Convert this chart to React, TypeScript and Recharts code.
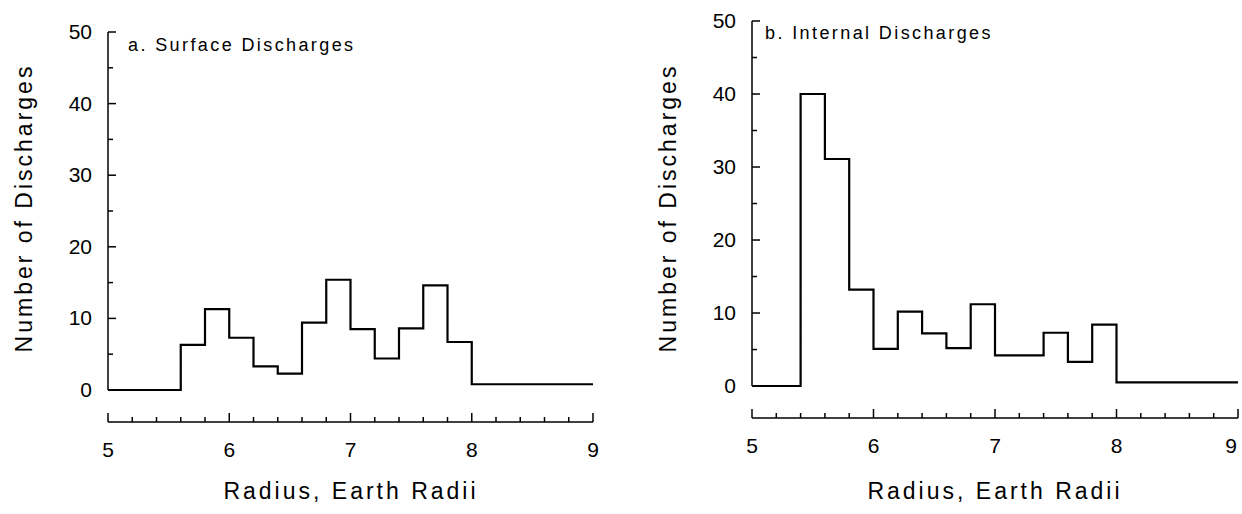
import { ComposedChart, Line, XAxis, YAxis, ReferenceLine } from "recharts";

// bin edges (Earth radii) and counts
const surfaceEdges = [5.0, 5.6, 5.8, 6.0, 6.2, 6.4, 6.6, 6.8, 7.0, 7.2, 7.4, 7.6, 7.8, 8.0, 9.0];
const surfaceCounts = [0, 6.3, 11.3, 7.3, 3.3, 2.3, 9.4, 15.4, 8.5, 4.4, 8.6, 14.6, 6.7, 0.8, 0.8];

const internalEdges = [5.0, 5.4, 5.6, 5.8, 6.0, 6.2, 6.4, 6.6, 6.8, 7.0, 7.4, 7.6, 7.8, 8.0, 9.0];
const internalCounts = [0, 40, 31.1, 13.2, 5.1, 10.2, 7.2, 5.2, 11.2, 4.2, 7.3, 3.3, 8.4, 0.5, 0.5];

const xTicks = [5, 5.2, 5.4, 5.6, 5.8, 6, 6.2, 6.4, 6.6, 6.8, 7, 7.2, 7.4, 7.6, 7.8, 8, 8.2, 8.4, 8.6, 8.8, 9];
const yTicks = [0, 5, 10, 15, 20, 25, 30, 35, 40, 45, 50];

const FONT = "'Liberation Sans', Arial, sans-serif";

const toRows = (edges: number[], counts: number[]) =>
  edges.map((r, i) => ({ r, n: counts[i] }));

const YTick = (props: any) => {
  const { x, y, payload } = props;
  const v = payload.value;
  const major = v % 10 === 0;
  return (
    <g>
      <line x1={x} y1={y} x2={x + (major ? 8 : 5)} y2={y} stroke="#000" strokeWidth={1.5} />
      {major && (
        <text x={x - 16} y={y} dy={7} textAnchor="end" fontSize={21} fontFamily={FONT} fill="#000">
          {v}
        </text>
      )}
    </g>
  );
};

// the page edge cuts the last label of the right panel, keep it just inside
const XTick = (props: any) => {
  const { x, y, payload, maxX } = props;
  const v = payload.value;
  const major = Math.abs(v - Math.round(v)) < 1e-6;
  const tx = maxX ? Math.min(x, maxX) : x;
  return (
    <g>
      <line x1={x} y1={y} x2={x} y2={y - (major ? 9 : 5)} stroke="#000" strokeWidth={1.5} />
      {major && (
        <text x={tx} y={y + 28} dy={7} textAnchor="middle" fontSize={21} fontFamily={FONT} fill="#000">
          {v}
        </text>
      )}
    </g>
  );
};

type PanelProps = {
  left: number;
  rows: { r: number; n: number }[];
  margin: { top: number; right: number; bottom: number; left: number };
  yMin: number;
  title: string;
  titleX: number;
  titleY: number;
  yLabelX: number;
  xLabelX: number;
  maxTickX?: number;
};

const Panel = ({ left, rows, margin, yMin, title, titleX, titleY, yLabelX, xLabelX, maxTickX }: PanelProps) => (
  <div style={{ position: "absolute", left, top: 0, width: 621, height: 514 }}>
    <ComposedChart width={621} height={514} data={rows} margin={margin}>
      <XAxis
        dataKey="r"
        type="number"
        domain={[5, 9]}
        ticks={xTicks}
        interval={0}
        tickSize={0}
        tickMargin={0}
        tickLine={false}
        tick={<XTick maxX={maxTickX} />}
        axisLine={{ stroke: "#000", strokeWidth: 1.5 }}
        height={40}
        allowDataOverflow
      />
      <YAxis
        type="number"
        domain={[yMin, 50]}
        ticks={yTicks}
        interval={0}
        tickSize={0}
        tickMargin={0}
        tickLine={false}
        tick={<YTick />}
        axisLine={false}
        width={60}
        allowDataOverflow
      />
      <ReferenceLine segment={[{ x: 5, y: 0 }, { x: 5, y: 50 }]} stroke="#000" strokeWidth={1.5} />
      <Line
        dataKey="n"
        type="stepAfter"
        stroke="#000"
        strokeWidth={2.2}
        dot={false}
        activeDot={false}
        isAnimationActive={false}
      />
    </ComposedChart>
    <div
      style={{
        position: "absolute",
        left: titleX - left,
        top: titleY - 11,
        fontFamily: FONT,
        fontSize: 18,
        letterSpacing: 2.4,
        whiteSpace: "nowrap",
      }}
    >
      {title}
    </div>
    <div
      style={{
        position: "absolute",
        left: xLabelX - left - 200,
        width: 400,
        top: 478,
        textAlign: "center",
        fontFamily: FONT,
        fontSize: 23,
        letterSpacing: 3,
        whiteSpace: "nowrap",
      }}
    >
      Radius, Earth Radii
    </div>
    <div
      style={{
        position: "absolute",
        left: yLabelX - left - 200,
        top: 208 - 15,
        width: 400,
        height: 30,
        lineHeight: "30px",
        textAlign: "center",
        transform: "rotate(-90deg)",
        fontFamily: FONT,
        fontSize: 23,
        letterSpacing: 3,
        whiteSpace: "nowrap",
      }}
    >
      Number of Discharges
    </div>
  </div>
);

export default function App() {
  return (
    <div style={{ position: "absolute", left: 0, top: 0, width: 1242, height: 514, background: "#fff", color: "#000" }}>
      <Panel
        left={0}
        rows={toRows(surfaceEdges, surfaceCounts)}
        margin={{ top: 32, right: 28, bottom: 52, left: 48 }}
        yMin={-4.47}
        title="a. Surface Discharges"
        titleX={128}
        titleY={46}
        yLabelX={24}
        xLabelX={351}
      />
      <Panel
        left={621}
        rows={toRows(internalEdges, internalCounts)}
        margin={{ top: 21, right: 4, bottom: 56, left: 71 }}
        yMin={-4.38}
        title="b. Internal Discharges"
        titleX={765}
        titleY={34}
        yLabelX={668}
        xLabelX={995}
        maxTickX={610}
      />
    </div>
  );
}
